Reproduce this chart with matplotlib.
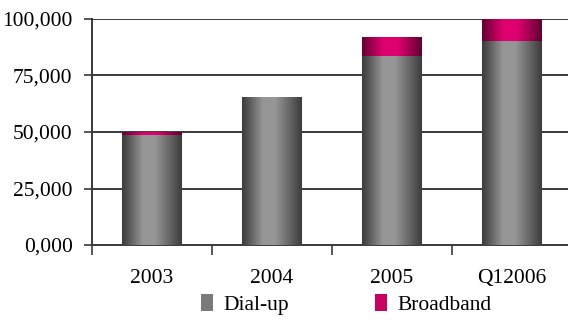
import matplotlib
matplotlib.use('Agg')
import matplotlib.pyplot as plt
import numpy as np
from matplotlib.colors import LinearSegmentedColormap
from matplotlib.patches import Patch
from matplotlib.font_manager import FontProperties

categories = ['2003', '2004', '2005', 'Q12006']
dialup = [48700, 65500, 83800, 90200]
broadband = [1200, 0, 8200, 9800]
y_ticks = [0, 25000, 50000, 75000, 100000]
y_tick_labels = ['0,000', '25,000', '50,000', '75,000', '100,000']

plt.rcParams['font.family'] = ['Liberation Serif', 'DejaVu Serif']

grey_cmap = LinearSegmentedColormap.from_list(
    'grey', [(0, '#3a3a3a'), (0.35, '#969696'), (0.55, '#979797'), (1, '#3c3c3c')])
pink_cmap = LinearSegmentedColormap.from_list(
    'pink', [(0, '#650032'), (0.35, '#de006f'), (0.6, '#de006f'), (1, '#600030')])


def gradient_fill(bars, cmap, ax):
    grad = np.linspace(0, 1, 256).reshape(1, -1)
    for b in bars:
        x0, y0 = b.get_x(), b.get_y()
        w, h = b.get_width(), b.get_height()
        if h <= 0:
            continue
        b.set_facecolor('none')
        b.set_edgecolor('none')
        im = ax.imshow(grad, cmap=cmap, aspect='auto', extent=[x0, x0 + w, y0, y0 + h],
                       zorder=3, interpolation='bicubic')
        im.set_clip_path(b)


fig = plt.figure(figsize=(5.68, 3.2), dpi=100)
ax = fig.add_axes([92 / 568, 75 / 320, 480 / 568, 226 / 320])

x = np.arange(len(categories))
b1 = ax.bar(x, dialup, width=0.5, zorder=3)
b2 = ax.bar(x, broadband, width=0.5, bottom=dialup, zorder=3)
gradient_fill(b1, grey_cmap, ax)
gradient_fill(b2, pink_cmap, ax)

ax.set_xlim(-0.5, 3.5)
ax.set_ylim(0, 100000)
ax.set_yticks(y_ticks)
ax.set_yticklabels(y_tick_labels, fontsize=15.5)
ax.yaxis.grid(True, color='#3a3a3a', linewidth=1.4, zorder=1)
ax.set_axisbelow(True)

ax.set_xticks(x)
ax.set_xticklabels(categories, fontsize=15.5)
ax.tick_params(axis='x', length=0, pad=17)
ax.set_xticks(np.arange(-0.5, 3.6, 1), minor=True)
ax.tick_params(axis='x', which='minor', length=7, width=1.2, color='#3a3a3a')
ax.tick_params(axis='y', length=6, width=1.2, color='#3a3a3a', pad=8)

for s in ['top', 'right']:
    ax.spines[s].set_visible(False)
ax.spines['left'].set_color('#3a3a3a')
ax.spines['left'].set_linewidth(1.4)
ax.spines['bottom'].set_color('#3a3a3a')
ax.spines['bottom'].set_linewidth(1.4)

handles = [Patch(facecolor='#7a7a7a', label='Dial-up'),
           Patch(facecolor='#c8005f', label='Broadband')]
fig.legend(handles=handles, loc='lower center', bbox_to_anchor=(0.61, -0.045), ncol=2,
           frameon=False, prop=FontProperties(family='Liberation Serif', size=15.5),
           handlelength=0.55, handleheight=0.8, handletextpad=0.5, columnspacing=4.0)

fig.savefig('out.png', dpi=100)
